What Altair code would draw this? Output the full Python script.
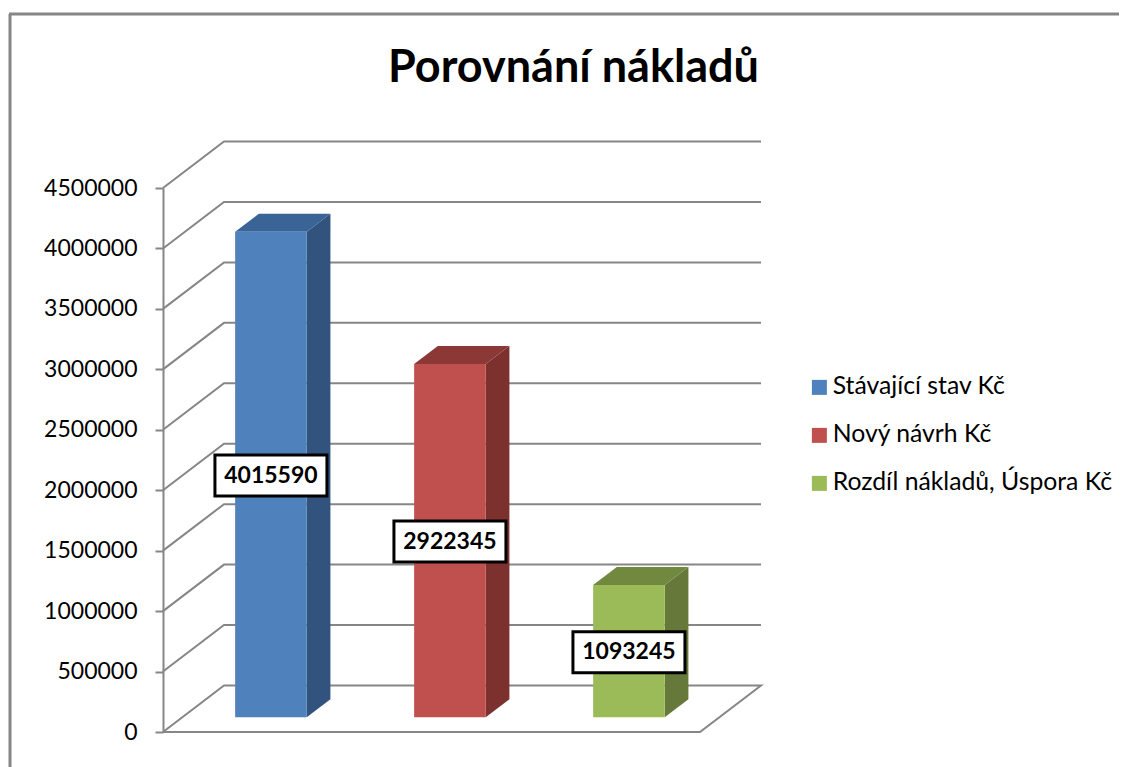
import altair as alt
import pandas as pd

TITLE = "Porovnání nákladů"
SERIES = ["Stávající stav Kč", "Nový návrh Kč", "Rozdíl nákladů, Úspora Kč"]
VALUES = [4015590, 2922345, 1093245]
FRONT = ["#4F81BD", "#C0504D", "#9BBB59"]
SIDE = ["#31537D", "#7D312F", "#66793A"]
TOP = ["#3A6496", "#8C3836", "#71893F"]
TICKS = [0, 500000, 1000000, 1500000, 2000000, 2500000, 3000000, 3500000, 4000000, 4500000]
FONT = "Lato"
GREY = "#868686"

PW, PH = 537, 544                # plot size
YMAX = 4500000
N = len(SERIES)
UX = N / PW                      # x units per pixel
UY = YMAX / PH                   # y units per pixel
DX = 61 * UX                     # wall depth on x
DY = 46.5 * UY                   # wall depth on y
Z0, Z1 = 0.317, 0.705            # bar front / back depth
HALF = 0.2                       # half bar width in category units
BOX_W, BOX_H = 56 * UX, 20.5 * UY


def proj(x, v, z):
    return x + z * DX, v + z * DY


xs = alt.Scale(domain=[0, N], nice=False, zero=False)
ys = alt.Scale(domain=[0, YMAX], nice=False, zero=False)
yaxis = alt.Axis(
    values=TICKS, grid=False, format="d", tickSize=8, tickWidth=2, tickColor=GREY,
    domainColor=GREY, domainWidth=2, labelFont=FONT, labelFontSize=23, labelColor="#000000",
    labelPadding=18, labelFlush=False, labelOverlap=False, title=None)
X = alt.X("x:Q", scale=xs, axis=None)
Y = alt.Y("y:Q", scale=ys, title=None, axis=yaxis)
X2 = alt.X2("x2:Q")
Y2 = alt.Y2("y2:Q")

# walls
grid_rows = []
for t in TICKS[1:]:
    for i, (x, z) in enumerate([(0, 0), (0, 1), (N, 1)]):
        px, py = proj(x, t, z)
        grid_rows.append({"x": px, "y": py, "g": t, "i": i})
grid = alt.Chart(pd.DataFrame(grid_rows)).mark_line(color=GREY, strokeWidth=2).encode(
    x=X, y=Y, detail="g:N", order="i:Q")

floor_rows = []
for i, (x, z) in enumerate([(0, 0), (0, 1), (N, 1), (N, 0), (0, 0)]):
    px, py = proj(x, 0, z)
    floor_rows.append({"x": px, "y": py, "i": i})
floor = alt.Chart(pd.DataFrame(floor_rows)).mark_line(color=GREY, strokeWidth=2).encode(
    x=X, y=Y, order="i:Q")

layers = [grid, floor]

# bars
front_rows, box_rows = [], []
for k, (name, val) in enumerate(zip(SERIES, VALUES)):
    c = k + 0.495
    l, r = c - HALF, c + HALF
    xl, yb = proj(l, 0, Z0)
    xr, yt = proj(r, val, Z0)
    front_rows.append({"x": xl, "x2": xr, "y": yb, "y2": yt, "s": name})
    cx, cy = (xl + xr) / 2, (yb + yt) / 2 - 1 * UY
    box_rows.append({"x": cx - BOX_W, "x2": cx + BOX_W, "y": cy - BOX_H, "y2": cy + BOX_H,
                     "cx": cx, "cy": cy, "t": str(val)})
    # side face
    side = []
    for z in (Z0, Z1):
        sx, sb = proj(r, 0, z)
        _, st = proj(r, val, z)
        side.append({"x": sx, "y": sb, "y2": st})
    layers.append(alt.Chart(pd.DataFrame(side)).mark_area(color=SIDE[k], orient="vertical").encode(
        x=X, y=Y, y2=Y2))
    # top face
    top = []
    for z in (Z0, Z1):
        tl, ty = proj(l, val, z)
        tr, _ = proj(r, val, z)
        top.append({"x": tl, "x2": tr, "y": ty})
    layers.append(alt.Chart(pd.DataFrame(top)).mark_area(color=TOP[k], orient="horizontal").encode(
        x=X, x2=X2, y=Y))

front = alt.Chart(pd.DataFrame(front_rows)).mark_rect(strokeWidth=0).encode(
    x=X, x2=X2, y=Y, y2=Y2,
    color=alt.Color("s:N", scale=alt.Scale(domain=SERIES, range=FRONT), sort=SERIES,
                    legend=alt.Legend(title=None, orient="none", legendX=644, legendY=187,
                                      symbolType="square", symbolSize=225, symbolStrokeWidth=0,
                                      symbolOpacity=1, labelFont=FONT, labelFontSize=24.75, labelColor="#000000",
                                      labelOffset=1, rowPadding=22, labelLimit=400)))
layers.append(front)

boxes = pd.DataFrame(box_rows)
layers.append(alt.Chart(boxes).mark_rect(fill="#FFFFFF", stroke="#000000", strokeWidth=3).encode(
    x=X, x2=X2, y=Y, y2=Y2))
layers.append(alt.Chart(boxes).mark_text(font=FONT, fontSize=23, fontWeight="bold", color="#000000",
                                         align="center", baseline="middle").encode(
    x=alt.X("cx:Q", scale=xs, axis=None), y=alt.Y("cy:Q", scale=ys, title=None, axis=yaxis), text="t:N"))

# chart frame
layers.append(alt.Chart().mark_rule(color=GREY, strokeWidth=3).encode(
    x=alt.value(-153), y=alt.value(-174), y2=alt.value(580)))
layers.append(alt.Chart().mark_rule(color=GREY, strokeWidth=3).encode(
    x=alt.value(-154), x2=alt.value(964), y=alt.value(-174)))

chart = alt.layer(*layers).properties(
    width=PW, height=PH,
    padding={"left": 155, "top": 180, "right": 419, "bottom": 35},
    autosize=alt.AutoSizeParams(type="none"),
    background="#FFFFFF",
    title=alt.TitleParams(TITLE, anchor="middle", dx=142, dy=78, offset=0, font=FONT, fontSize=45,
                          fontWeight="bold", color="#000000"),
).configure_view(stroke=None)

chart.save("out.html", embed_options={"renderer": "svg", "actions": False})
